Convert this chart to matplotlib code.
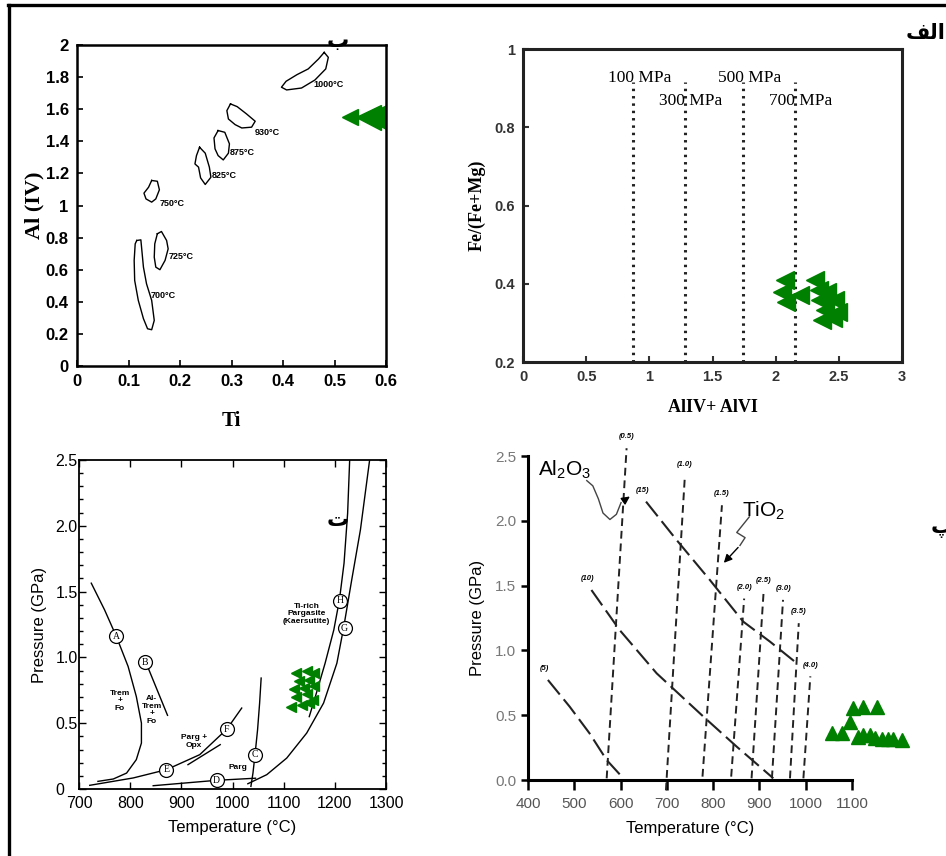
import numpy as np
import matplotlib.pyplot as plt
from matplotlib.lines import Line2D
from matplotlib.ticker import MultipleLocator, FuncFormatter

plt.rcParams['font.family'] = ['Liberation Sans', 'DejaVu Sans']
plt.rcParams['mathtext.default'] = 'regular'

W, H = 946, 856
GREEN = '#008000'

# ---------- panel ب : Ti vs Al(IV) ----------
blob_700 = [(0.116, 0.782), (0.124, 0.786), (0.129, 0.616), (0.135, 0.512), (0.145, 0.409),
            (0.150, 0.284), (0.145, 0.226), (0.137, 0.232), (0.129, 0.295), (0.119, 0.409),
            (0.112, 0.533), (0.111, 0.658), (0.113, 0.761)]
blob_725 = [(0.156, 0.824), (0.164, 0.838), (0.174, 0.782), (0.177, 0.730), (0.171, 0.658),
            (0.161, 0.600), (0.153, 0.616), (0.150, 0.678), (0.151, 0.761)]
blob_750 = [(0.145, 1.156), (0.156, 1.151), (0.160, 1.098), (0.153, 1.041), (0.145, 1.021),
            (0.134, 1.041), (0.130, 1.077), (0.139, 1.114)]
blob_825 = [(0.238, 1.363), (0.249, 1.326), (0.257, 1.239), (0.260, 1.176), (0.249, 1.131),
            (0.240, 1.172), (0.236, 1.239), (0.229, 1.259), (0.232, 1.311)]
blob_875 = [(0.274, 1.467), (0.287, 1.456), (0.296, 1.384), (0.294, 1.326), (0.284, 1.284),
            (0.274, 1.311), (0.268, 1.353), (0.266, 1.421)]
blob_930 = [(0.298, 1.633), (0.311, 1.616), (0.329, 1.571), (0.346, 1.525), (0.339, 1.488),
            (0.320, 1.483), (0.307, 1.504), (0.294, 1.539), (0.291, 1.591)]
blob_1000 = [(0.480, 1.954), (0.488, 1.923), (0.483, 1.851), (0.462, 1.782), (0.436, 1.732),
             (0.407, 1.720), (0.397, 1.737), (0.406, 1.774), (0.427, 1.815), (0.449, 1.851),
             (0.469, 1.913)]
blob_labels = ['700°C', '725°C', '750°C', '825°C', '875°C', '930°C', '1000°C']
blob_label_ti = [0.142, 0.177, 0.161, 0.262, 0.297, 0.346, 0.459]
blob_label_al = [0.44, 0.683, 1.01, 1.187, 1.332, 1.456, 1.757]
p1_ti_small = [0.53]
p1_al_small = [1.55]
p1_ti = [0.565, 0.58, 0.59]
p1_al = [1.55, 1.56, 1.53]

# ---------- panel الف : AlIV+AlVI vs Fe/(Fe+Mg) ----------
mpa_x = [0.87, 1.28, 1.74, 2.15]
mpa_labels = ['100 MPa', '300 MPa', '500 MPa', '700 MPa']
p2_al = [2.07, 2.05, 2.08, 2.19, 2.31, 2.34, 2.35, 2.39, 2.45, 2.49, 2.47, 2.41, 2.37]
p2_fe = [0.41, 0.379, 0.353, 0.371, 0.41, 0.384, 0.358, 0.333, 0.312, 0.328, 0.358, 0.379, 0.307]

# ---------- panel ت : P-T phase diagram ----------
curve_a_t = [724, 750, 773, 796, 812, 822, 822, 812, 793, 767, 737]
curve_a_p = [1.564, 1.361, 1.159, 0.931, 0.703, 0.501, 0.349, 0.223, 0.121, 0.076, 0.058]
curve_b_t = [832, 873]
curve_b_p = [0.95, 0.56]
curve_ef_t = [721, 806, 871, 936, 989, 1018]
curve_ef_p = [0.028, 0.084, 0.147, 0.261, 0.455, 0.615]
curve_opx_t = [913, 976]
curve_opx_p = [0.185, 0.337]
curve_d_t = [845, 969, 1045]
curve_d_p = [0.025, 0.066, 0.082]
curve_c_t = [1036, 1040, 1044, 1049, 1053, 1056]
curve_c_p = [0.02, 0.121, 0.261, 0.450, 0.653, 0.843]
curve_g_t = [1030, 1067, 1106, 1145, 1178, 1204, 1217, 1233, 1250, 1268]
curve_g_p = [0.04, 0.109, 0.235, 0.425, 0.653, 0.956, 1.222, 1.589, 1.969, 2.5]
curve_h_t = [1150, 1162, 1181, 1198, 1209, 1218, 1225, 1229]
curve_h_p = [0.55, 0.703, 0.956, 1.209, 1.437, 1.716, 2.095, 2.5]
pt_names = ['A', 'B', 'E', 'F', 'D', 'C', 'H', 'G']
pt_t = [773, 829, 871, 989, 969, 1044, 1211, 1219]
pt_p = [1.159, 0.964, 0.147, 0.455, 0.066, 0.261, 1.432, 1.222]
p3_t = [1125, 1145, 1160, 1130, 1150, 1120, 1140, 1160, 1125, 1145, 1157, 1115, 1135, 1150]
p3_p = [0.88, 0.90, 0.88, 0.82, 0.83, 0.76, 0.77, 0.78, 0.70, 0.72, 0.68, 0.62, 0.64, 0.65]

# ---------- panel پ : Al2O3 / TiO2 isopleths ----------
tio2_labels = ['(0.5)', '(1.0)', '(1.5)', '(2.0)', '(2.5)', '(3.0)', '(3.5)', '(4.0)']
tio2_t0 = [570, 698, 777, 839, 883, 927, 966, 995]
tio2_p0 = [0.013, -0.08, 0.026, 0.026, 0.013, 0.013, 0.013, 0.013]
tio2_t1 = [613, 739, 819, 867, 909, 951, 985, 1010]
tio2_p1 = [2.56, 2.35, 2.12, 1.40, 1.45, 1.39, 1.21, 0.80]
al5_t = [443, 490, 533, 570, 606]
al5_p = [0.772, 0.566, 0.360, 0.154, 0.013]
al10_t = [537, 598, 678, 779, 851, 930]
al10_p = [1.466, 1.157, 0.823, 0.489, 0.257, 0.013]
al15_t = [655, 721, 793, 865, 923, 981]
al15_p = [2.148, 1.852, 1.543, 1.222, 1.067, 0.900]
p4_t = [1102, 1124, 1154, 1096, 1057, 1078, 1113, 1124, 1139, 1150, 1165, 1178, 1188, 1208]
p4_p = [0.556, 0.563, 0.563, 0.448, 0.363, 0.363, 0.332, 0.347, 0.347, 0.324, 0.316, 0.316, 0.316, 0.309]

fig = plt.figure(figsize=(W / 100, H / 100), dpi=100)


def px_axes(left, top, right, bottom):
    return fig.add_axes([left / W, 1 - bottom / H, (right - left) / W, (bottom - top) / H])


def trim(v, pos):
    return '%g' % v


# outer frame
fig.add_artist(Line2D([8 / W, 944 / W], [1 - 5 / H, 1 - 5 / H], color='black', lw=2.4))
fig.add_artist(Line2D([8.5 / W, 8.5 / W], [0, 1 - 5 / H], color='black', lw=2.4))

# ================= panel ب =================
ax1 = px_axes(77, 45, 386, 366)
for blob in [blob_700, blob_725, blob_750, blob_825, blob_875, blob_930, blob_1000]:
    xs = [b[0] for b in blob] + [blob[0][0]]
    ys = [b[1] for b in blob] + [blob[0][1]]
    ax1.plot(xs, ys, color='black', lw=1.0)
for lab, x, y in zip(blob_labels, blob_label_ti, blob_label_al):
    ax1.text(x, y, lab, fontsize=6.5, fontweight='bold', ha='left', va='center')
ax1.plot(p1_ti_small, p1_al_small, ls='none', marker='<', ms=12, color=GREEN, mec=GREEN)
ax1.plot(p1_ti, p1_al, ls='none', marker='<', ms=18, color=GREEN, mec=GREEN)
ax1.set_xlim(0, 0.6)
ax1.set_ylim(0, 2)
ax1.set_xticks(np.arange(0, 0.61, 0.1))
ax1.set_yticks(np.arange(0, 2.01, 0.2))
ax1.xaxis.set_major_formatter(FuncFormatter(trim))
ax1.yaxis.set_major_formatter(FuncFormatter(trim))
ax1.tick_params(direction='in', length=4, width=1.2, labelsize=12, pad=6)
for t in ax1.get_xticklabels() + ax1.get_yticklabels():
    t.set_fontweight('bold')
for s in ax1.spines.values():
    s.set_linewidth(1.8)
ax1.set_ylabel('Al (IV)', family=['Liberation Serif', 'DejaVu Serif'], fontsize=16, fontweight='bold')
ax1.set_xlabel('Ti', family=['Liberation Serif', 'DejaVu Serif'], fontsize=15, fontweight='bold')
ax1.yaxis.set_label_coords(-0.105, 0.5)
ax1.xaxis.set_label_coords(0.5, -0.14)

# ================= panel الف =================
ax2 = px_axes(523, 49, 902, 362)
for x in mpa_x:
    ax2.plot([x, x], [0.2, 0.915], color='#222222', lw=2.2, ls=(0, (0.8, 1.6)))
mpa_lab_y = [0.925, 0.866, 0.925, 0.866]
for x, lab, y in zip(mpa_x, mpa_labels, mpa_lab_y):
    ax2.text(x + 0.05, y, lab, family=['Liberation Serif', 'DejaVu Serif'], fontsize=12.5,
             ha='center', va='center')
ax2.plot(p2_al, p2_fe, ls='none', marker='<', ms=13, color=GREEN, mec=GREEN)
ax2.set_xlim(0, 3)
ax2.set_ylim(0.2, 1)
ax2.set_xticks([0, 0.5, 1, 1.5, 2, 2.5, 3])
ax2.set_yticks([0.2, 0.4, 0.6, 0.8, 1])
ax2.xaxis.set_major_formatter(FuncFormatter(trim))
ax2.yaxis.set_major_formatter(FuncFormatter(trim))
ax2.tick_params(direction='in', length=4, width=1.5, labelsize=10.5, pad=6, colors='#333333')
for t in ax2.get_xticklabels() + ax2.get_yticklabels():
    t.set_fontweight('bold')
for s in ax2.spines.values():
    s.set_linewidth(2.2)
    s.set_color('#222222')
ax2.set_ylabel('Fe/(Fe+Mg)', family=['Liberation Serif', 'DejaVu Serif'], fontsize=13, fontweight='bold')
ax2.set_xlabel('AlIV+ AlVI', family=['Liberation Serif', 'DejaVu Serif'], fontsize=13, fontweight='bold')
ax2.yaxis.set_label_coords(-0.098, 0.5)
ax2.xaxis.set_label_coords(0.5, -0.118)

# ================= panel ت =================
ax3 = px_axes(79, 460, 386, 789)
for xs, ys in [(curve_a_t, curve_a_p), (curve_b_t, curve_b_p), (curve_ef_t, curve_ef_p),
               (curve_opx_t, curve_opx_p), (curve_d_t, curve_d_p), (curve_c_t, curve_c_p),
               (curve_g_t, curve_g_p), (curve_h_t, curve_h_p)]:
    ax3.plot(xs, ys, color='black', lw=1.0)
ax3.plot(p3_t, p3_p, ls='none', marker='<', ms=7, color=GREEN, mec=GREEN)
ax3.plot(pt_t, pt_p, ls='none', marker='o', ms=10, mfc='white', mec='black', mew=0.9)
for name, t, p in zip(pt_names, pt_t, pt_p):
    ax3.text(t, p, name, family=['Liberation Serif', 'DejaVu Serif'], fontsize=7,
             ha='center', va='center')
ax3.text(780, 0.67, 'Trem\n+\nFo', fontsize=6, fontweight='bold', ha='center', va='center', linespacing=1.1)
ax3.text(842, 0.60, 'Al-\nTrem\n+\nFo', fontsize=6, fontweight='bold', ha='center', va='center', linespacing=1.1)
ax3.text(925, 0.36, 'Parg +\nOpx', fontsize=6, fontweight='bold', ha='center', va='center', linespacing=1.1)
ax3.text(1011, 0.16, 'Parg', fontsize=6, fontweight='bold', ha='center', va='center')
ax3.text(1145, 1.33, 'Ti-rich\nPargasite\n(Kaersutite)', fontsize=6, fontweight='bold',
         ha='center', va='center', linespacing=1.1)
ax3.set_xlim(700, 1300)
ax3.set_ylim(0, 2.5)
ax3.set_xticks(np.arange(700, 1301, 100))
ax3.set_yticks([0, 0.5, 1.0, 1.5, 2.0, 2.5])
ax3.yaxis.set_minor_locator(MultipleLocator(0.1))
ax3.yaxis.set_major_formatter(FuncFormatter(lambda v, p: '0' if v == 0 else '%.1f' % v))
ax3.tick_params(which='both', direction='in', top=True, right=True, width=1.0)
ax3.tick_params(which='major', length=5, labelsize=11.5, pad=5)
ax3.tick_params(axis='y', which='major', pad=17)
ax3.tick_params(which='minor', length=3)
for t in ax3.get_yticklabels():
    t.set_horizontalalignment('left')
for s in ax3.spines.values():
    s.set_linewidth(1.3)
ax3.set_ylabel('Pressure (GPa)', fontsize=12)
ax3.set_xlabel('Temperature (°C)', fontsize=12)
ax3.yaxis.set_label_coords(-0.104, 0.5)
ax3.xaxis.set_label_coords(0.5, -0.095)

# ================= panel پ =================
ax4 = px_axes(528, 456, 852, 780)
for t0, p0, t1, p1, lab in zip(tio2_t0, tio2_p0, tio2_t1, tio2_p1, tio2_labels):
    ax4.plot([t0, t1], [p0, p1], color='#222222', lw=1.4, ls=(0, (4, 2.5)), clip_on=False)
    ax4.text(t1, p1 + 0.06, lab, fontsize=5.5, fontstyle='italic', fontweight='bold',
             ha='center', va='bottom', clip_on=False)
for xs, ys, lab in [(al5_t, al5_p, '(5)'), (al10_t, al10_p, '(10)'), (al15_t, al15_p, '(15)')]:
    ax4.plot(xs, ys, color='#222222', lw=1.5, ls=(0, (9, 3)))
    ax4.text(xs[0] - 8, ys[0] + 0.06, lab, fontsize=5.5, fontstyle='italic', fontweight='bold',
             ha='center', va='bottom')
ax4.text(480, 2.39, 'Al$_2$O$_3$', fontsize=15, ha='center', va='center')
ax4.plot([527, 540, 552, 562, 577, 591, 601], [2.31, 2.27, 2.17, 2.06, 2.01, 2.05, 2.14],
         color='#444444', lw=1.0)
ax4.annotate('', xy=(625, 2.20), xytext=(601, 2.14),
             arrowprops=dict(arrowstyle='-|>', color='black', lw=1.0, mutation_scale=12))
ax4.text(908, 2.08, 'TiO$_2$', fontsize=15, ha='center', va='center')
ax4.plot([878, 851, 869, 858], [2.03, 1.91, 1.87, 1.81], color='#444444', lw=1.0)
ax4.annotate('', xy=(819, 1.66), xytext=(858, 1.81),
             arrowprops=dict(arrowstyle='-|>', color='black', lw=1.0, mutation_scale=12))
ax4.plot(p4_t, p4_p, ls='none', marker='^', ms=10, color=GREEN, mec=GREEN, clip_on=False)
ax4.set_xlim(400, 1100)
ax4.set_ylim(0, 2.5)
ax4.set_xticks(np.arange(400, 1101, 100))
ax4.set_yticks([0, 0.5, 1.0, 1.5, 2.0, 2.5])
ax4.yaxis.set_major_formatter(FuncFormatter(lambda v, p: '%.1f' % v))
ax4.spines['top'].set_visible(False)
ax4.spines['right'].set_visible(False)
for s in ['left', 'bottom']:
    ax4.spines[s].set_linewidth(2.2)
ax4.tick_params(axis='x', direction='out', length=7, width=1.8, labelsize=11, colors='black',
                labelcolor='#555555', pad=5)
ax4.tick_params(axis='y', direction='out', length=5, width=1.8, labelsize=11, labelcolor='#777777')
ax4.set_ylabel('Pressure (GPa)', fontsize=12)
ax4.set_xlabel('Temperature (°C)', fontsize=12)
ax4.yaxis.set_label_coords(-0.133, 0.5)
ax4.xaxis.set_label_coords(0.5, -0.125)

# ---------- panel letters ----------
arabic = ['DejaVu Sans']
fig.text(338 / W, 1 - 41 / H, 'ب', family=arabic, fontsize=16, fontweight='bold', ha='center', va='center')
fig.text(926 / W, 1 - 33 / H, '\ufed2\ufedf\ufe8d', family=arabic, fontsize=15, fontweight='bold',
         ha='center', va='center')
fig.text(338 / W, 1 - 520 / H, 'ت', family=arabic, fontsize=16, fontweight='bold', ha='center', va='center')
fig.text(942 / W, 1 - 528 / H, 'پ', family=arabic, fontsize=16, fontweight='bold', ha='center', va='center')

fig.savefig('out.png', dpi=100)
